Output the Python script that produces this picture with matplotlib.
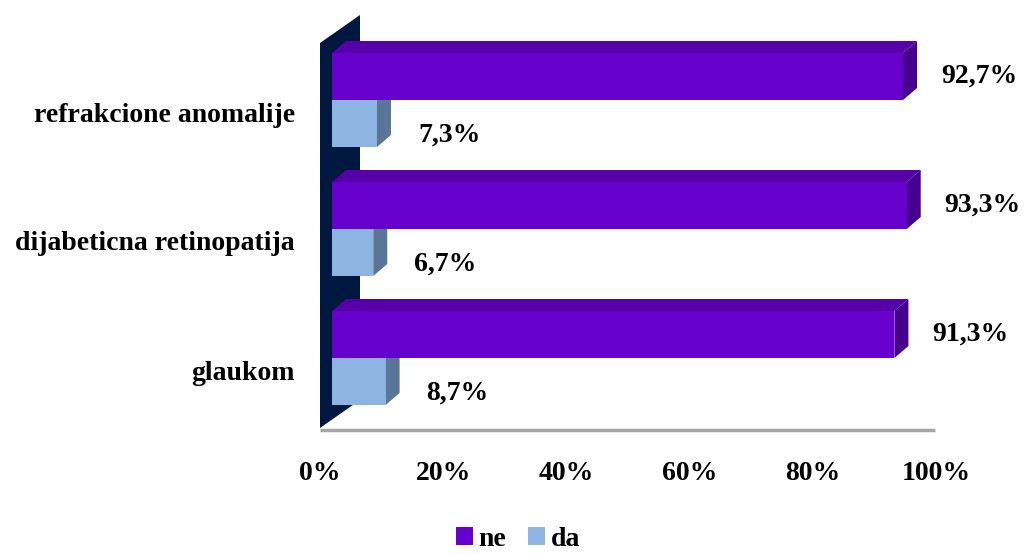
import matplotlib
matplotlib.use("Agg")
import matplotlib.pyplot as plt
import matplotlib.transforms as mtransforms
from matplotlib.patches import Polygon, Rectangle, Patch

# podaci
kategorije = ["glaukom", "dijabeticna retinopatija", "refrakcione anomalije"]
ne_vrijednosti = [91.3, 93.3, 92.7]
da_vrijednosti = [8.7, 6.7, 7.3]
ne_labele = ["91,3%", "93,3%", "92,7%"]
da_labele = ["8,7%", "6,7%", "7,3%"]
x_ticks = [0, 20, 40, 60, 80, 100]

plt.rcParams['font.family'] = ['Liberation Serif', 'DejaVu Serif']
plt.rcParams['font.weight'] = 'bold'
FS = 20

ne_boje = ('#6600CC', '#5700AA', '#47008E')   # prednja, gornja, bocna
da_boje = ('#8EB4E3', '#7A9CC8', '#5B7596')
zid_boja = '#00183F'

fig = plt.figure(figsize=(10.24, 5.54), dpi=100)
W, H = 1024, 554
# osa: lijevo 332px, dole 418px, gore 15px
ax = fig.add_axes([332 / W, (H - 418) / H, 616 / W, 403 / H])
y0 = -(418 - 358) / 129
y1 = 2 + (100 - 15) / 129
ax.set_xlim(0, 100)
ax.set_ylim(y0, y1)
for s in ax.spines.values():
    s.set_visible(False)

sx = 100 / 616          # podatak po pikselu (x)
sy = (y1 - y0) / 403    # podatak po pikselu (y)
h = 47 * sy             # visina stupca
ddx, ddy = 14 * sx, 12 * sy   # dubina


def px2d(px, py):
    return ((px - 332) * sx, 2 - (py - 100) * sy)


# zid (lijevo)
zid = [px2d(320, 428), px2d(320, 43), px2d(360, 15), px2d(360, 400)]
ax.add_patch(Polygon(zid, closed=True, facecolor=zid_boja, edgecolor='none',
                     clip_on=False, zorder=1))

# linija poda
fx0, fy = px2d(320, 430)
fx1, _ = px2d(935, 430)
ax.plot([fx0, fx1], [fy, fy], color='#A6A6A6', lw=2.5, clip_on=False,
        solid_capstyle='butt', zorder=1)


def kvadar(v, yb, boje):
    front, top, side = boje
    ax.add_patch(Polygon([(0, yb + h), (ddx, yb + h + ddy), (v + ddx, yb + h + ddy), (v, yb + h)],
                         facecolor=top, edgecolor='none', zorder=3, clip_on=False))
    ax.add_patch(Polygon([(v, yb), (v + ddx, yb + ddy), (v + ddx, yb + h + ddy), (v, yb + h)],
                         facecolor=side, edgecolor='none', zorder=3, clip_on=False))
    ax.add_patch(Rectangle((0, yb), v, h, facecolor=front, edgecolor='none', zorder=4,
                           clip_on=False))


for i in range(len(kategorije)):
    kvadar(da_vrijednosti[i], i - h, da_boje)
    kvadar(ne_vrijednosti[i], i, ne_boje)
    ax.annotate(ne_labele[i], (ne_vrijednosti[i], i + h / 2), xytext=(38, 0),
                textcoords='offset pixels', ha='left', va='center', fontsize=FS,
                fontweight='bold', annotation_clip=False)
    ax.annotate(da_labele[i], (da_vrijednosti[i], i - h / 2), xytext=(41, -12),
                textcoords='offset pixels', ha='left', va='center', fontsize=FS,
                fontweight='bold', annotation_clip=False)

ax.set_xticks(x_ticks)
ax.set_xticklabels([f"{t}%" for t in x_ticks], fontsize=FS, fontweight='bold')
ax.set_yticks(range(len(kategorije)))
ax.set_yticklabels(kategorije, fontsize=FS, fontweight='bold')
ax.tick_params(axis='x', length=0, pad=31)
ax.tick_params(axis='y', length=0, pad=18)

pomak = mtransforms.ScaledTranslation(-12 / 100, -12 / 100, fig.dpi_scale_trans)
pomak_x = mtransforms.ScaledTranslation(-12 / 100, 0, fig.dpi_scale_trans)
for lab in ax.get_yticklabels():
    lab.set_transform(lab.get_transform() + pomak)
for lab in ax.get_xticklabels():
    lab.set_transform(lab.get_transform() + pomak_x)

rucke = [Patch(facecolor=ne_boje[0], label='ne'), Patch(facecolor=da_boje[0], label='da')]
fig.legend(handles=rucke, loc='center', bbox_to_anchor=(518 / W, 1 - 539 / H), ncol=2,
           frameon=False, fontsize=FS, handlelength=0.6, handleheight=0.6,
           handletextpad=0.2, columnspacing=0.8, borderpad=0)

fig.savefig('out.png', dpi=100)
